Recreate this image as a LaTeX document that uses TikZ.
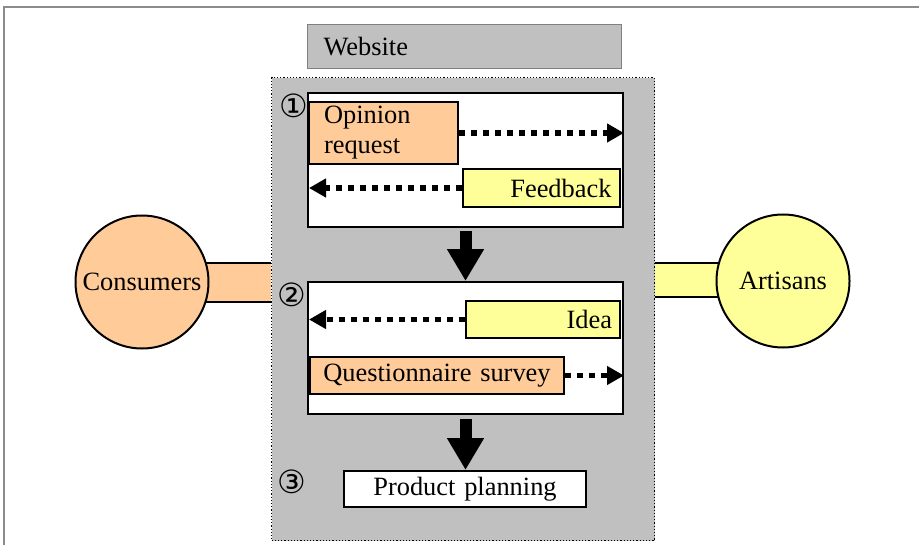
\documentclass[tikz,border=0pt]{standalone}
\usepackage{fontspec}
\setmainfont{Liberation Serif}
\newfontfamily\numfont{DejaVu Sans}
\usetikzlibrary{arrows.meta,positioning,backgrounds}
\definecolor{peach}{HTML}{FFCC99}
\definecolor{lemon}{HTML}{FFFF99}
\definecolor{silver}{HTML}{C0C0C0}
\definecolor{framegray}{HTML}{8C8C8C}

\begin{document}
\begin{tikzpicture}[x=0.5pt,y=-0.5pt,line join=miter,
		every node/.style={font=\fontsize{13.2}{15}\selectfont,inner sep=0pt},
		box/.style={draw,line width=1pt,anchor=north west},
		tag/.style={box,inner xsep=7.5pt},
		num/.style={font=\numfont\fontsize{16}{16}\selectfont},
		party/.style={circle,draw,line width=1pt,minimum size=66.5pt},
		dotarrow/.style={line width=2.8pt,dash pattern=on 3pt off 3pt,-{Triangle[width=9pt,length=8.5pt]}},
		bigarrow/.style={line width=6pt,-{Triangle[width=17.5pt,length=16pt]}}]
	\useasboundingbox (0,0) rectangle (919,545);
	% frame
	\draw[framegray,line width=1pt] (4,545)--(4,7)--(919,7);

	\node[box,draw=gray,line width=0.6pt,fill=silver,minimum width=157pt,minimum height=22pt,
		text width=141pt,inner xsep=8pt,align=left] (web) at (307,24) {Website};
	\node[anchor=north west,draw,densely dotted,line width=0.6pt,fill=silver,
		minimum width=191.5pt,minimum height=231.5pt] (site) at (271,77) {};

	% step 1
	\node[box,fill=white,minimum width=157.5pt,minimum height=67pt] (step1) at (307,92) {};
	\node[tag,fill=peach,minimum width=74.5pt,minimum height=31pt,text width=59.5pt,align=left]
		(opinion) at (308,101) {Opinion\\request};
	\node[tag,fill=lemon,minimum width=78.5pt,minimum height=19pt,text width=70pt,inner xsep=4pt,align=right]
		(feedback) at (462,168) {Feedback};
	\draw[dotarrow] (opinion.east) -- (opinion.east -| step1.east);
	\draw[dotarrow] (feedback.west) -- ([xshift=1pt]feedback.west -| step1.west);

	% step 2
	\node[box,fill=white,minimum width=157.5pt,minimum height=66pt] (step2) at (307,281) {};
	\node[tag,fill=lemon,minimum width=77pt,minimum height=18.5pt,text width=69pt,inner xsep=4pt,align=right]
		(idea) at (465,300) {Idea};
	\node[tag,fill=peach,minimum width=127pt,minimum height=18.5pt,text width=127pt,inner xsep=0pt,align=center]
		(survey) at (309,356) {Questionnaire survey};
	\draw[dotarrow] (idea.west) -- ([xshift=1pt]idea.west -| step2.west);
	\draw[dotarrow] (survey.east) -- (survey.east -| step2.east);

	% step 3
	\node[box,fill=white,minimum width=121pt,minimum height=18pt,text width=121pt,align=center]
		(plan) at (343,470) {Product planning};

	\draw[bigarrow] ([yshift=-1.5pt]step1.south) -- (step2.north);
	\draw[bigarrow] ([yshift=-2pt]step2.south) -- (step2.south |- plan.north);

	\node[num] (one) at (294,106) {①};
	\node[num] (two) at (292,295) {②};
	\node[num] (three) at (292,482) {③};

	% the two parties
	\node[party,fill=peach] (consumers) at (142,282) {Consumers};
	\node[party,fill=lemon] (artisans) at (783,281) {Artisans};
	\begin{scope}[on background layer]
		\fill[peach] (consumers.center |- 0,263) rectangle (site.west |- 0,302);
		\draw[line width=1pt] (consumers.center |- 0,263) -- (site.west |- 0,263)
			(consumers.center |- 0,302) -- (site.west |- 0,302);
		\fill[lemon] (site.east |- 0,263) rectangle (artisans.center |- 0,297);
		\draw[line width=1pt] (site.east |- 0,263) -- (artisans.center |- 0,263)
			(site.east |- 0,297) -- (artisans.center |- 0,297);
	\end{scope}
\end{tikzpicture}
\end{document}
